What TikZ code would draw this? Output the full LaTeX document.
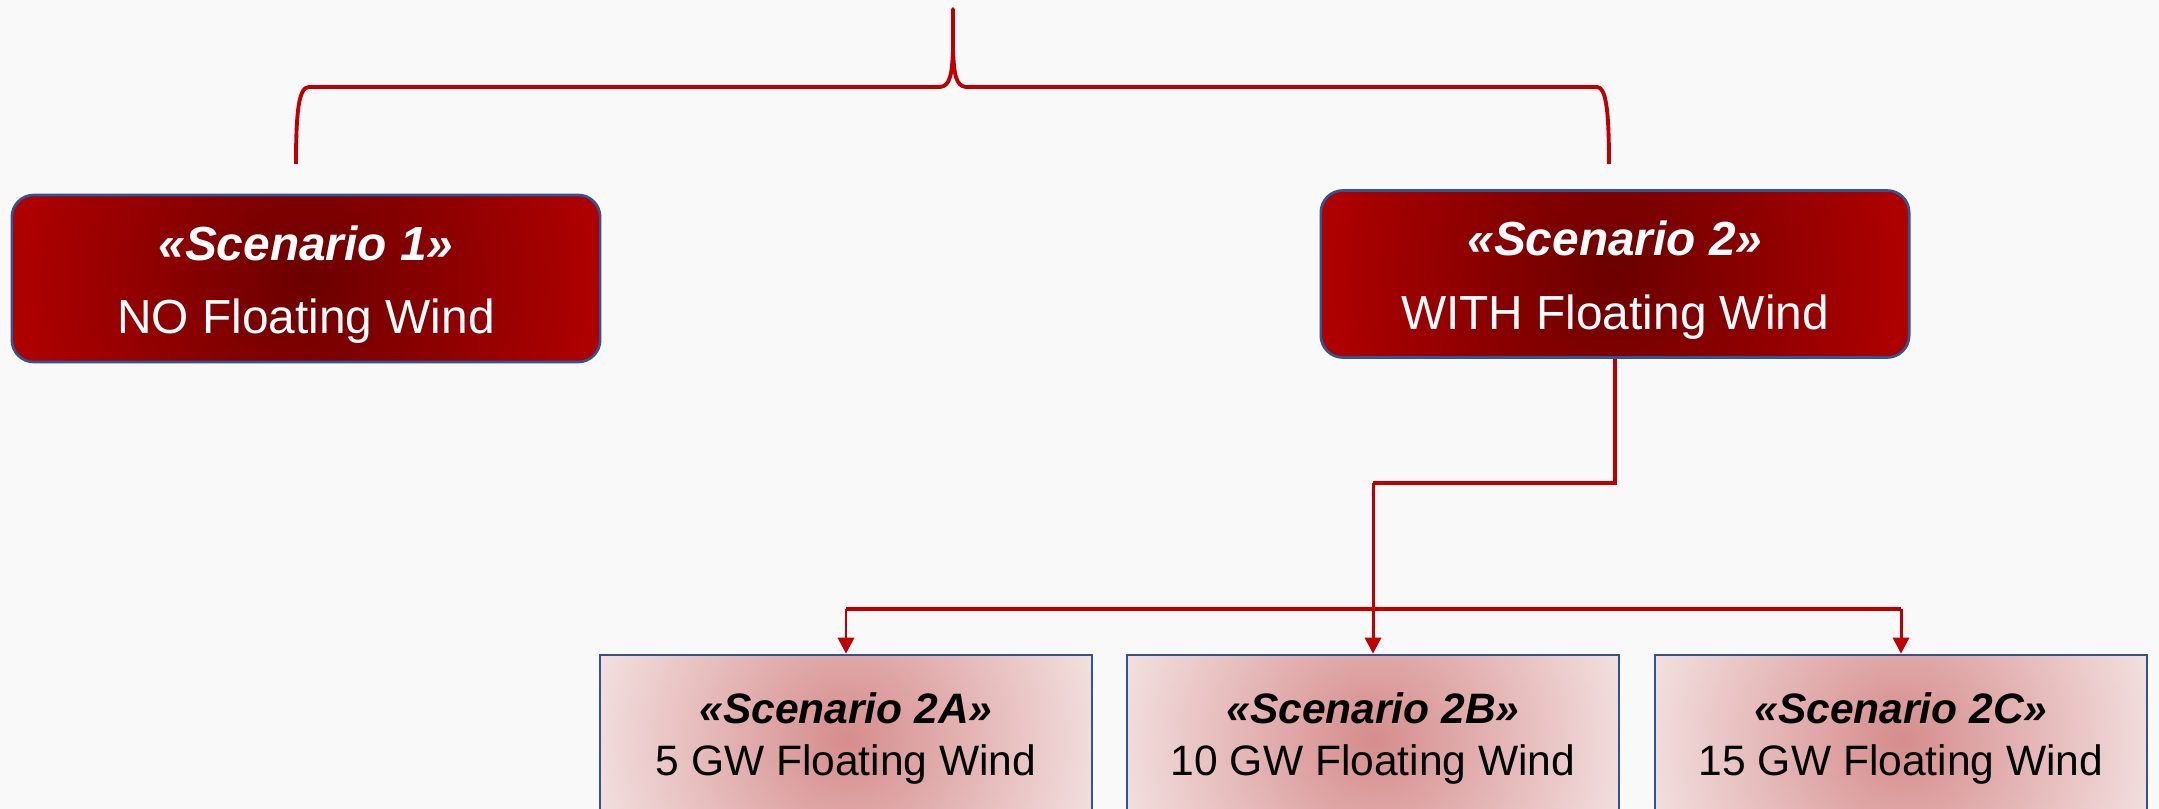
\documentclass[tikz,border=0pt]{standalone}
\usepackage{fontspec}
\setmainfont{Liberation Sans}
\usetikzlibrary{arrows.meta}
\definecolor{bgc}{RGB}{249,249,249}
\definecolor{redC}{RGB}{107,0,0}
\definecolor{redE}{RGB}{178,0,0}
\definecolor{pinkC}{RGB}{214,140,140}
\definecolor{pinkE}{RGB}{243,224,224}
\definecolor{bordc}{RGB}{47,85,151}
\definecolor{linec}{RGB}{192,0,0}
\tikzset{
  topbox/.style={draw=bordc, line width=0.75pt, rounded corners=0.22cm, inner sep=0pt,
    minimum width=5.88cm, minimum height=1.67cm,
    path picture={\shade[inner color=redC, outer color=redE] (path picture bounding box.center) circle (3.06cm);}},
  subbox/.style={draw=bordc, line width=0.7pt, inner sep=0pt,
    minimum width=4.92cm, minimum height=1.68cm,
    path picture={\shade[inner color=pinkC, outer color=pinkE] (path picture bounding box.center) circle (2.6cm);}},
  ttitle/.style={text=white, anchor=base, inner sep=0pt, font=\fontsize{13.6}{16}\selectfont\bfseries\itshape},
  tline/.style={text=white, anchor=base, inner sep=0pt, font=\fontsize{13.6}{16}\selectfont},
  stitle/.style={text=black, anchor=base, inner sep=0pt, font=\fontsize{12.1}{14}\selectfont\bfseries\itshape},
  sline/.style={text=black, anchor=base, inner sep=0pt, font=\fontsize{12.1}{14}\selectfont},
  bracepath/.style={draw=linec, line width=1.1pt, line join=round},
  thickconn/.style={draw=linec, line width=1.15pt},
  arrowconn/.style={draw=linec, line width=0.85pt, -{Triangle[length=4.6pt,width=4.6pt]}}
}
\begin{document}
\begin{tikzpicture}[x=0.01cm, y=-0.01cm]
\path[use as bounding box, fill=bgc] (0,0) rectangle (2159,809);
\clip (0,0) rectangle (2159,809);

% top boxes
\node[topbox] (s1) at (306,278.5) {};
\node[topbox] (s2) at (1615,274) {};
\node[ttitle] (s1a) at (306,260) {«Scenario 1»};
\node[tline]  (s1b) at (306,333) {NO Floating Wind};
\node[ttitle] (s2a) at (1615,255) {«Scenario 2»};
\node[tline]  (s2b) at (1615,329) {WITH Floating Wind};

% sub boxes
\node[subbox] (sA) at (846,739) {};
\node[subbox] (sB) at (1373,739) {};
\node[subbox] (sC) at (1901,739) {};
\node[stitle] (sAa) at (846,723) {«Scenario 2A»};
\node[sline]  (sAb) at (846,775) {5 GW Floating Wind};
\node[stitle] (sBa) at (1373,723) {«Scenario 2B»};
\node[sline]  (sBb) at (1373,775) {10 GW Floating Wind};
\node[stitle] (sCa) at (1901,723) {«Scenario 2C»};
\node[sline]  (sCb) at (1901,775) {15 GW Floating Wind};

% brace
\coordinate (bl) at (296,164);
\coordinate (br) at (1609,164);
\coordinate (btop) at (953,9);
\draw[bracepath] (bl) .. controls (296,110) and (299,87) .. (309,87)
  -- (940,87) .. controls (950,86) and (952,75) .. (953,50) -- (btop)
  -- (953,50) .. controls (954,75) and (956,86) .. (966,87)
  -- (1597,87) .. controls (1606,87) and (1609,110) .. (br);

% connectors
\coordinate (jun) at (1373,483);
\coordinate (busA) at (846,609);
\coordinate (busC) at (1901,609);
\draw[thickconn] (s2.south) |- (jun);
\draw[arrowconn] (jun) -- (sB.north);
\draw[thickconn] (busA) -- (busC);
\draw[arrowconn] (busA) -- (sA.north);
\draw[arrowconn] (busC) -- (sC.north);
\end{tikzpicture}
\end{document}
